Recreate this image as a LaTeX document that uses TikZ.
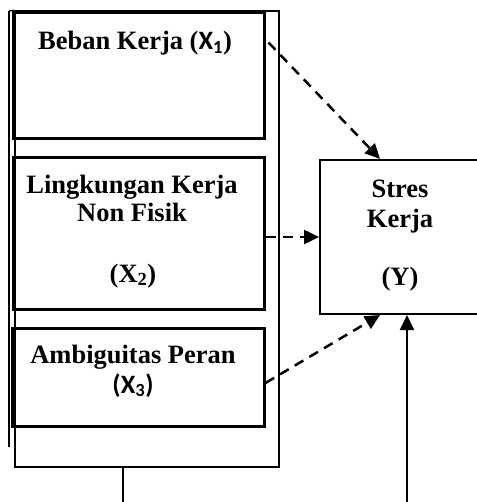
\documentclass[tikz,border=0pt]{standalone}
\usepackage{fontspec}
\setmainfont{Liberation Serif}
\newfontfamily\sansx{Carlito}
\usetikzlibrary{arrows.meta}

\begin{document}
\begin{tikzpicture}[x=1pt, y=-1pt, every node/.style={align=center, font=\fontsize{26.5}{28}\selectfont\bfseries}, >={Triangle[length=15pt, width=14pt]}]
    % 样式
    \tikzstyle{box} = [rectangle, draw=black, line width=3pt, inner sep=0pt]
    \tikzstyle{target} = [rectangle, draw=black, line width=2pt, inner sep=0pt, minimum width=168pt, minimum height=154pt]
    \tikzstyle{frame} = [rectangle, draw=black, line width=1.3pt, inner sep=0pt, minimum width=264pt, minimum height=456pt]
    \tikzstyle{lbl} = [anchor=base, inner sep=0pt]
    \tikzstyle{dasharrow} = [line width=2.5pt, dash pattern=on 10pt off 7pt, ->]
    \tikzstyle{solidarrow} = [line width=2pt, ->]

    \useasboundingbox (0,0) rectangle (476,502);

    % 外框
    \node[frame] (F) at (147,239) {};
    \draw[line width=1.3pt] (9,11) -- (F.north west);
    \draw[line width=1.3pt] (9,11) -- (9,447);

    % 变量框
    \node[box, minimum width=251pt, minimum height=126pt] (B1) at (138.5,76) {};
    \node[box, minimum width=251pt, minimum height=151pt] (B2) at (138.5,233.5) {};
    \node[box, minimum width=252pt, minimum height=98pt] (B3) at (138,377) {};
    \node[target] (Y) at (404,237) {};

    % 文字
    \node[lbl] (T1) at (135,50) {Beban Kerja ({\sansx X\textsubscript{1}})};
    \node[lbl] (T2a) at (132,194) {Lingkungan Kerja};
    \node[lbl] (T2b) at (132,222) {Non Fisik};
    \node[lbl] (T2c) at (133,282) {(X\textsubscript{2})};
    \node[lbl] (T3a) at (133,363) {Ambiguitas Peran};
    \node[lbl] (T3b) at (133,393) {{\sansx (X\textsubscript{3})}};
    \node[lbl] (TYa) at (400,198) {Stres};
    \node[lbl] (TYb) at (400,228) {Kerja};
    \node[lbl] (TYc) at (400,285) {(Y)};

    % 下方连线
    \coordinate (Fend) at (123,502);
    \coordinate (Yin) at (407,502);

    % 箭头
    \draw[dasharrow] ([shift={(3pt,-31pt)}]B1.north east) -- ([xshift=-24pt]Y.north);
    \draw[dasharrow] (B2.east |- Y.west) -- (Y.west);
    \draw[dasharrow] ([yshift=-6pt]B3.east) -- ([xshift=-24pt]Y.south);
    \draw[solidarrow] (Yin) -- ([xshift=3pt]Y.south);
    \draw[line width=2pt] ([xshift=-24pt]F.south) -- (Fend);
  \end{tikzpicture}
\end{document}
